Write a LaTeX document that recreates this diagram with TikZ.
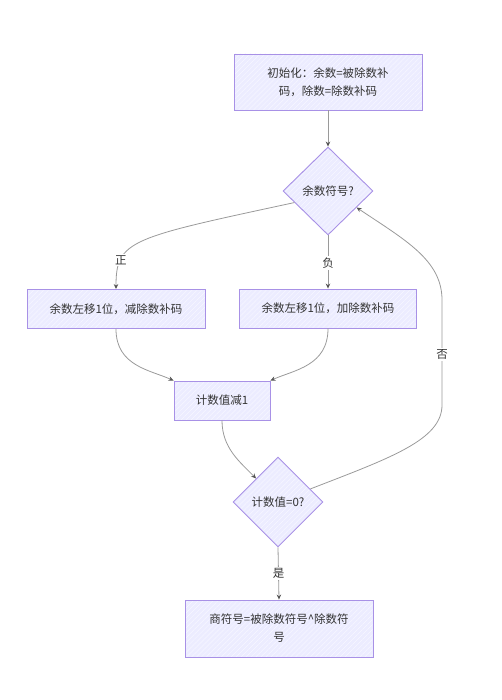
\documentclass[tikz,border=0pt]{standalone}
\usepackage{fontspec}
\setmainfont{Noto Sans CJK SC}
\usetikzlibrary{shapes.geometric,arrows.meta,patterns.meta}
\definecolor{boxfill}{HTML}{ECECFF}
\definecolor{boxline}{HTML}{A891E6}
\definecolor{edgec}{HTML}{9A9A9A}
\definecolor{tipc}{HTML}{555555}
\definecolor{txt}{HTML}{333333}
\tikzset{
  nodebase/.style={draw=boxline, line width=0.9pt, text=txt, font=\fontsize{11.5}{18}\selectfont,
    preaction={fill=boxfill}, pattern={Lines[angle=45,distance=3.5pt,line width=0.5pt]}, pattern color=white!60!boxfill, align=center},
  box/.style={nodebase, rectangle, inner sep=0pt},
  dec/.style={nodebase, diamond, inner sep=0pt},
  edge/.style={draw=edgec, line width=0.8pt, -{Stealth[length=5pt,width=4.5pt,color=tipc]}},
  elabel/.style={fill=white, text=txt, font=\fontsize{11.5}{14}\selectfont, inner sep=1.5pt}
}
\begin{document}
\begin{tikzpicture}[x=1pt,y=-1pt]
\useasboundingbox (0,0) rectangle (501,700);
\node[box, minimum width=188pt, minimum height=56pt] (init) at (328,82) {初始化：余数=被除数补\\码，除数=除数补码};
\node[dec, minimum width=90pt, minimum height=88pt] (sign) at (328,191) {余数符号?};
\node[box, minimum width=178pt, minimum height=39pt] (sub) at (116,309) {余数左移1位，减除数补码};
\node[box, minimum width=177pt, minimum height=39pt] (add) at (328,308.5) {余数左移1位，加除数补码};
\node[box, minimum width=96pt, minimum height=39pt] (dec1) at (222,400.5) {计数值减1};
\node[dec, minimum width=90pt, minimum height=90pt] (zero) at (278,502) {计数值=0?};
\node[box, minimum width=188pt, minimum height=57pt] (res) at (279,628.5) {商符号=被除数符号\^{}除数符\\号};

\draw[edge] (init.south) -- (sign.north);
\draw[edge] (sign.199) .. controls (130,238) and (116,240) .. node[elabel, pos=0.75] {正} (sub.north);
\draw[edge] (sign.south) -- node[elabel, pos=0.52] {负} (add.north);
\draw[edge] (sub.south) .. controls (116,366) and (150,370) .. (dec1.north west);
\draw[edge] (add.south) .. controls (328,366) and (294,370) .. (dec1.north east);
\draw[edge] (dec1.south) .. controls (222,448) and (240,462) .. (zero.133);
\draw[edge] (zero.south) -- node[elabel, pos=0.5] {是} (res.north);
\coordinate (r1) at (442,405);
\coordinate (r2) at (442,300);
\draw[edge] (zero.22) .. controls (390,458) and (442,440) .. (r1) -- node[elabel, pos=0.48] {否} (r2) .. controls (442,260) and (405,240) .. (sign.330);
\end{tikzpicture}
\end{document}
